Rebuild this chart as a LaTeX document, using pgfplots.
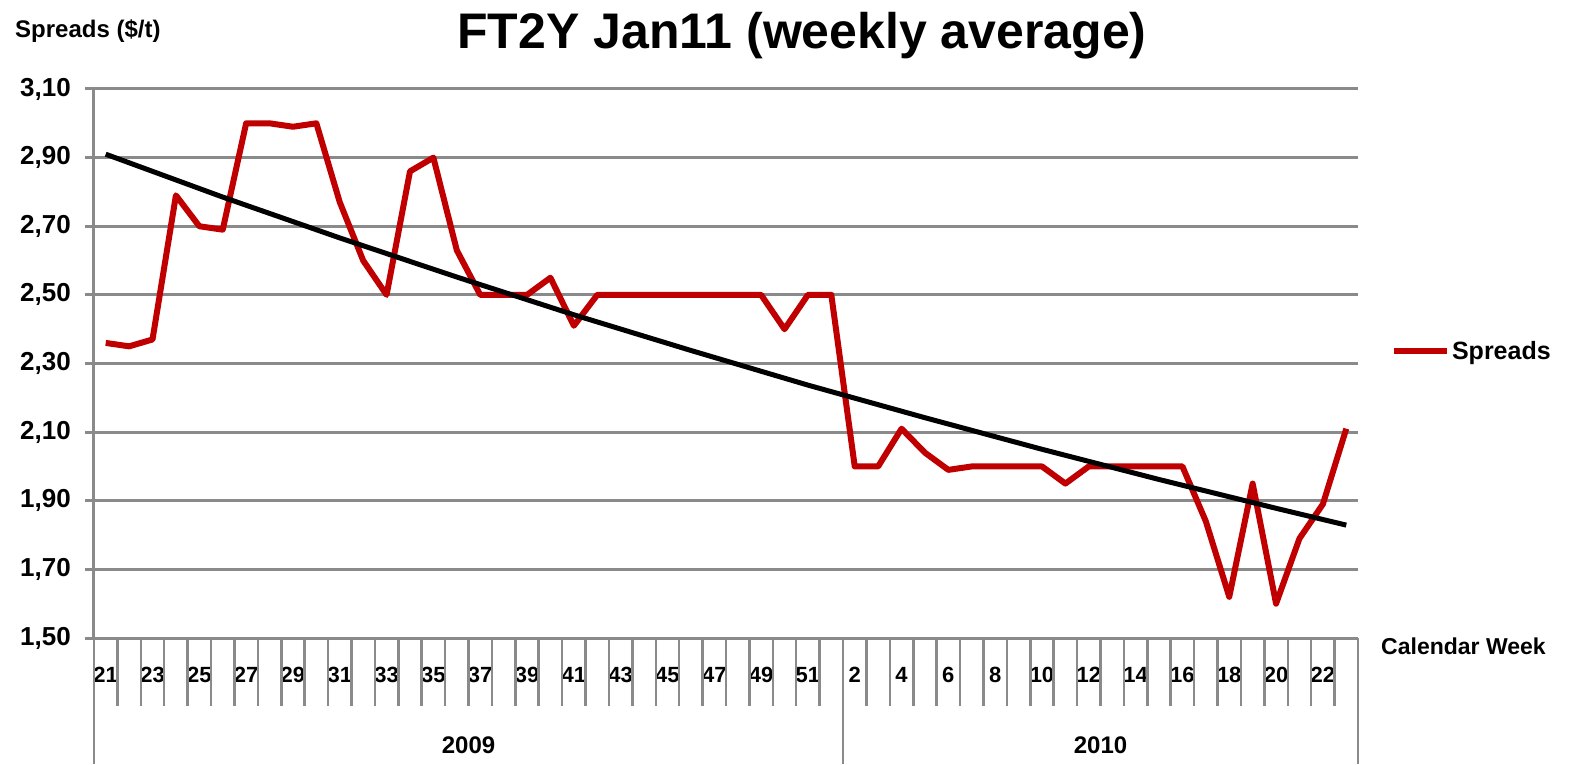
\documentclass[border=0pt]{standalone}
\usepackage{pgfplots}
\pgfplotsset{compat=1.18}
\usepackage{fontspec}
\setmainfont{Liberation Sans}
\definecolor{sred}{HTML}{C00000}
\definecolor{ggray}{HTML}{8A8A8A}
\begin{document}
\begin{tikzpicture}
\path[use as bounding box] (0,0) rectangle (1583pt,764pt);
\begin{axis}[
  at={(94pt,126pt)}, anchor=south west,
  scale only axis, width=1264pt, height=549pt,
  xmin=-0.5, xmax=53.5, ymin=1.5, ymax=3.1,
  clip=false,
  axis x line*=bottom, axis y line*=left,
  axis line style={ggray, line width=3pt, -},
  ytick={1.5,1.7,1.9,2.1,2.3,2.5,2.7,2.9,3.1},
  ymajorgrids, grid style={ggray, line width=3pt},
  tick align=outside, major tick length=9pt,
  y tick style={ggray, line width=3pt},
  x tick style={draw=none},
  /pgf/number format/assume math mode=true,
  yticklabel style={/pgf/number format/.cd, fixed, fixed zerofill, precision=2, use comma, /tikz/.cd,
     font=\bfseries\fontsize{26}{26}\selectfont, anchor=east, inner sep=0pt, xshift=-14pt},
  xtick={0,2,...,52},
  xticklabels={21,23,25,27,29,31,33,35,37,39,41,43,45,47,49,51,2,4,6,8,10,12,14,16,18,20,22},
  xticklabel style={font=\bfseries\fontsize{22}{22}\selectfont, anchor=center, inner sep=0pt, yshift=-28pt},
  legend style={at={(1.026,0.523)}, anchor=west, draw=none, fill=none, inner sep=0pt,
     font=\bfseries\fontsize{25}{25}\selectfont, /tikz/every even column/.append style={column sep=0pt}},
  legend image code/.code={\draw[#1] (0pt,0pt) -- (53pt,0pt);},
]
\addplot[sred, line width=6pt, line join=round] coordinates {
(0,2.36) (1,2.35) (2,2.37) (3,2.79) (4,2.70) (5,2.69) (6,3.00) (7,3.00) (8,2.99) (9,3.00)
(10,2.77) (11,2.60) (12,2.50) (13,2.86) (14,2.90) (15,2.63) (16,2.50) (17,2.50) (18,2.50) (19,2.55)
(20,2.41) (21,2.50) (22,2.50) (23,2.50) (24,2.50) (25,2.50) (26,2.50) (27,2.50) (28,2.50) (29,2.40)
(30,2.50) (31,2.50) (32,2.00) (33,2.00) (34,2.11) (35,2.04) (36,1.99) (37,2.00) (38,2.00) (39,2.00)
(40,2.00) (41,1.95) (42,2.00) (43,2.00) (44,2.00) (45,2.00) (46,2.00) (47,1.84) (48,1.62) (49,1.95)
(50,1.60) (51,1.79) (52,1.89) (53,2.11)
};
\addlegendentry{Spreads}
\addplot[black, line width=5pt, line join=round, forget plot] coordinates {
(0,2.910) (5,2.785) (10,2.666) (15,2.552) (20,2.442) (25,2.338) (30,2.237)
(35,2.142) (40,2.050) (45,1.962) (50,1.878) (53,1.829)};
\pgfplotsinvokeforeach{-0.5,0.5,...,53.5}{
  \draw[ggray, line width=2.5pt] (axis cs:#1,1.5) -- ++(0pt,-68pt);
}
\draw[ggray, line width=2.5pt] (axis cs:-0.5,1.5) -- ++(0pt,-126pt);
\draw[ggray, line width=2.5pt] (axis cs:31.5,1.5) -- ++(0pt,-126pt);
\draw[ggray, line width=2.5pt] (axis cs:53.5,1.5) -- ++(0pt,-126pt);
\node[font=\bfseries\fontsize{24}{24}\selectfont] at ([yshift=-107pt]axis cs:15.5,1.5) {2009};
\node[font=\bfseries\fontsize{24}{24}\selectfont] at ([yshift=-107pt]axis cs:42.5,1.5) {2010};
\end{axis}
\node[anchor=base, font=\bfseries\fontsize{50}{50}\selectfont, inner sep=0pt] at (802pt,715pt) {FT2Y Jan11 (weekly average)};
\node[anchor=base west, font=\bfseries\fontsize{24}{24}\selectfont, inner sep=0pt] at (15pt,726pt) {Spreads (\$/t)};
\node[anchor=west, font=\bfseries\fontsize{23}{23}\selectfont, inner sep=0pt] at (1381pt,118pt) {Calendar Week};
\end{tikzpicture}
\end{document}
